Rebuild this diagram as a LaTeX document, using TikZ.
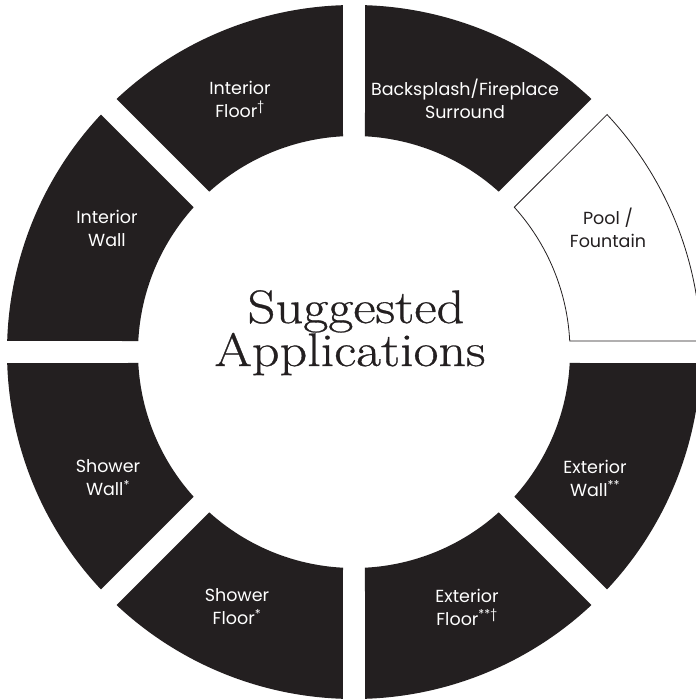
\documentclass[tikz,border=0pt]{standalone}
\usepackage{fontspec}
\usepackage{graphicx}
\setmainfont{Latin Modern Roman}[FakeBold=0.6]
\newfontfamily\segfont{Poppins}
\usepackage{tikz}
\usetikzlibrary{calc}
\definecolor{segblack}{HTML}{231F20}
\tikzstyle{segment}=[fill=segblack,draw=none]
\tikzstyle{opensegment}=[fill=white,draw=segblack,line width=0.8pt]
\tikzstyle{segtext}=[align=center,text=white,font=\segfont\fontsize{17.5}{23}\selectfont,inner sep=0pt]
\tikzstyle{opentext}=[segtext,text=segblack]
\tikzstyle{titletext}=[anchor=base,text=segblack,inner sep=0pt,font=\fontsize{47}{42}\selectfont]
\newcommand{\rout}{347}
\newcommand{\rin}{216}
\newcommand{\dout}{1.82}
\newcommand{\din}{2.92}

\begin{document}
\begin{tikzpicture}[x=1pt,y=1pt]
	\useasboundingbox (-354,-347) rectangle (342,352);

	% ring of eight pieces, gaps of 22
	\foreach \a/\st in {0/opensegment,45/segment,90/segment,135/segment,180/segment,225/segment,270/segment,315/segment}{
		\path[\st] (\a+\dout:\rout) arc[start angle=\a+\dout,end angle=\a+45-\dout,radius=\rout]
			-- (\a+45-\din:\rin) arc[start angle=\a+45-\din,end angle=\a+\din,radius=\rin] -- cycle;
	}

	\node[opentext] (pool) at (254,124) {Pool /\\Fountain};
	\node[segtext] (backsplash) at (111,253) {Backsplash/Fireplace\\Surround};
	\node[segtext] (intfloor) at (-114,253) {Interior\\Floor\textsuperscript{†}};
	\node[segtext] (intwall) at (-247,124) {Interior\\Wall};
	\node[segtext] (showerwall) at (-246,-126) {Shower\\Wall\textsuperscript{*}};
	\node[segtext] (showerfloor) at (-117,-255) {Shower\\Floor\textsuperscript{*}};
	\node[segtext] (extfloor) at (113,-255) {Exterior\\Floor\textsuperscript{**†}};
	\node[segtext] (extwall) at (241,-126) {Exterior\\Wall\textsuperscript{**}};

	\node[titletext] (title1) at (2,29) {\scalebox{1.16}[1]{Suggested}};
	\node[titletext] (title2) at (-4,-14) {\scalebox{1.15}[1]{Applications}};
\end{tikzpicture}
\end{document}
